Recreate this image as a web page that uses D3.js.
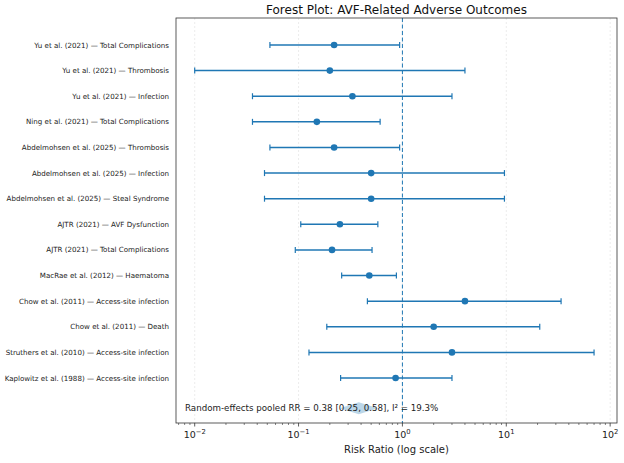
<!DOCTYPE html>
<html><head><meta charset="utf-8">
<script src="https://cdn.jsdelivr.net/npm/d3@7"></script>
<style>body{margin:0;background:#fff}text{font-family:"DejaVu Sans",sans-serif}</style>
</head><body>
<svg id="c" width="624" height="463"></svg>
<script>
var studies = ["Yu et al. (2021) — Total Complications","Yu et al. (2021) — Thrombosis","Yu et al. (2021) — Infection",
  "Ning et al. (2021) — Total Complications","Abdelmohsen et al. (2025) — Thrombosis","Abdelmohsen et al. (2025) — Infection",
  "Abdelmohsen et al. (2025) — Steal Syndrome","AJTR (2021) — AVF Dysfunction","AJTR (2021) — Total Complications",
  "MacRae et al. (2012) — Haematoma","Chow et al. (2011) — Access-site infection","Chow et al. (2011) — Death",
  "Struthers et al. (2010) — Access-site infection","Kaplowitz et al. (1988) — Access-site infection"];
var rr    = [0.22, 0.20, 0.33, 0.15, 0.22, 0.50, 0.50, 0.25, 0.21, 0.48, 4.0, 2.0, 3.0, 0.86];
var lower = [0.053, 0.010, 0.036, 0.036, 0.053, 0.047, 0.047, 0.105, 0.093, 0.26, 0.46, 0.187, 0.126, 0.254];
var upper = [0.94, 4.0, 3.0, 0.61, 0.94, 9.6, 9.6, 0.58, 0.51, 0.875, 33.7, 21, 70, 3.0];
var pooled = {rr: 0.38, lo: 0.25, hi: 0.58, i2: 19.3};
var xTicks = [0.01, 0.1, 1, 10, 100];

var svg = d3.select("#c");
var L = 176, R = 617, T = 18, B = 423;
var x = d3.scaleLog().domain([Math.pow(10, -2.18), Math.pow(10, 2.066)]).range([L, R]);
var y = d3.scaleLinear().domain([0, 13]).range([45, 378]);
var blue = "#1f77b4";

// grid
svg.selectAll(".g").data(xTicks).enter().append("line")
  .attr("x1", d => x(d)).attr("x2", d => x(d)).attr("y1", T).attr("y2", B)
  .attr("stroke", "#e4e4e4").attr("stroke-width", 0.7).attr("stroke-dasharray", "2,2");

// reference line at 1
svg.append("line").attr("x1", x(1)).attr("x2", x(1)).attr("y1", T).attr("y2", B)
  .attr("stroke", blue).attr("stroke-width", 1).attr("stroke-dasharray", "4,2.5");

var rows = svg.selectAll(".r").data(studies).enter().append("g");
rows.append("line").attr("x1", (d, i) => x(lower[i])).attr("x2", (d, i) => x(upper[i]))
  .attr("y1", (d, i) => y(i)).attr("y2", (d, i) => y(i)).attr("stroke", blue).attr("stroke-width", 1.5);
[lower, upper].forEach(function(arr) {
  rows.append("line").attr("x1", (d, i) => x(arr[i])).attr("x2", (d, i) => x(arr[i]))
    .attr("y1", (d, i) => y(i) - 3).attr("y2", (d, i) => y(i) + 3).attr("stroke", blue).attr("stroke-width", 1.2);
});
rows.append("circle").attr("cx", (d, i) => x(rr[i])).attr("cy", (d, i) => y(i)).attr("r", 3.3).attr("fill", blue);
rows.append("text").attr("x", 169).attr("y", (d, i) => y(i) + 2.5).attr("text-anchor", "end")
  .attr("font-size", 7.1).attr("fill", "#222").text(d => d);

// pooled diamond
var py = y(14.18);
svg.append("path").attr("d", "M" + x(pooled.lo) + "," + py + "L" + x(pooled.rr) + "," + (py - 6) +
  "L" + x(pooled.hi) + "," + py + "L" + x(pooled.rr) + "," + (py + 6) + "Z")
  .attr("fill", blue).attr("fill-opacity", 0.3);
svg.append("text").attr("x", 185).attr("y", py + 3).attr("font-size", 8.7).attr("fill", "#222")
  .text("Random-effects pooled RR = " + pooled.rr.toFixed(2) + " [" + pooled.lo.toFixed(2) + ", " +
    pooled.hi.toFixed(2) + "], I² = " + pooled.i2 + "%");

// frame
svg.append("rect").attr("x", L).attr("y", T).attr("width", R - L).attr("height", B - T)
  .attr("fill", "none").attr("stroke", "#333").attr("stroke-width", 0.8);

// axis
var minors = [];
for (var e = -3; e <= 2; e++) for (var m = 2; m <= 9; m++) {
  var v = m * Math.pow(10, e); if (v >= x.domain()[0] && v <= x.domain()[1]) minors.push(v);
}
svg.selectAll(".mt").data(minors).enter().append("line").attr("x1", d => x(d)).attr("x2", d => x(d))
  .attr("y1", B).attr("y2", B + 2).attr("stroke", "#333").attr("stroke-width", 0.6);
svg.selectAll(".Mt").data(xTicks).enter().append("line").attr("x1", d => x(d)).attr("x2", d => x(d))
  .attr("y1", B).attr("y2", B + 3.5).attr("stroke", "#333").attr("stroke-width", 0.8);
var tl = svg.selectAll(".tl").data(xTicks).enter().append("text").attr("x", d => x(d)).attr("y", B + 15)
  .attr("text-anchor", "middle").attr("font-size", 9.5).attr("fill", "#222");
tl.append("tspan").text("10");
tl.append("tspan").attr("dy", -4).attr("font-size", 6.8).text(d => d3.format("d")(Math.log10(d)).replace("-", "−"));
svg.append("text").attr("x", (L + R) / 2).attr("y", 453).attr("text-anchor", "middle").attr("font-size", 10)
  .attr("fill", "#222").text("Risk Ratio (log scale)");
svg.append("text").attr("x", (L + R) / 2).attr("y", 14).attr("text-anchor", "middle").attr("font-size", 12)
  .attr("fill", "#111").text("Forest Plot: AVF-Related Adverse Outcomes");
</script>
</body></html>
